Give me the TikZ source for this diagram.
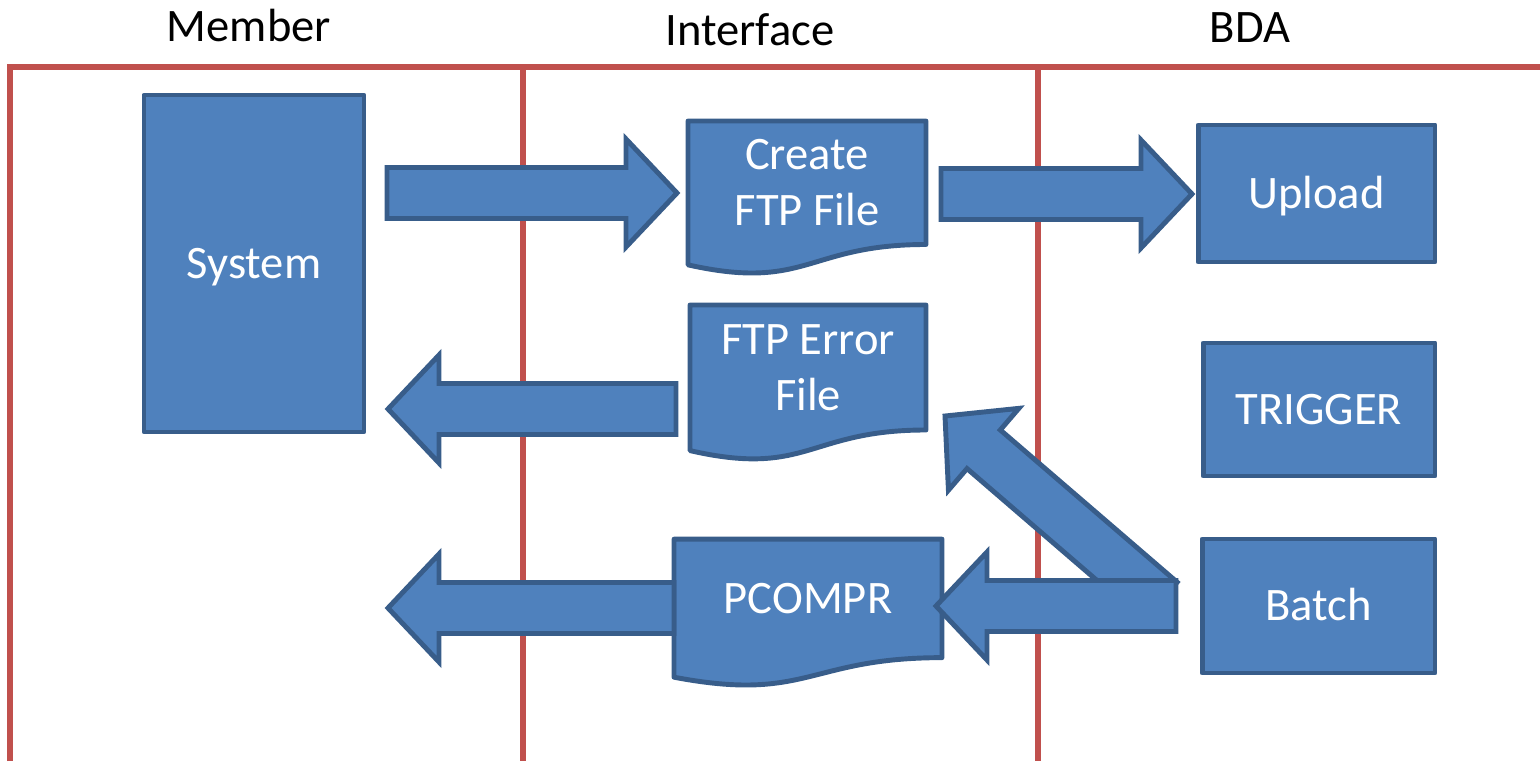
\documentclass[tikz,border=0pt]{standalone}
\usepackage{fontspec}
\setmainfont{Carlito}
\usetikzlibrary{calc,backgrounds}
\definecolor{lanered}{HTML}{C0504D}
\definecolor{boxfill}{HTML}{4F81BD}
\definecolor{boxline}{HTML}{385D8A}
\tikzset{
  lane/.style={draw=lanered,line width=3.3pt},
  head/.style={font=\fontsize{26.5}{32}\selectfont,anchor=base},
  box/.style={draw=boxline,fill=boxfill,line width=2.8pt,line join=round,text=white,align=center,inner sep=0pt,outer sep=0pt,text height=17pt,text depth=0pt,font=\fontsize{26.5}{32}\selectfont},
  docbox/.style={text=white,align=center,inner sep=0pt,outer sep=0pt,font=\fontsize{26.5}{32}\selectfont},
  docfill/.style={draw=boxline,fill=boxfill,line width=2.8pt,line join=round},
  barrow/.style={draw=boxline,fill=boxfill,line width=2.8pt,line join=miter},
}
% wavy bottom under a docbox node
\newcommand\docshape[1]{\path[docfill] (#1.north west) -- (#1.north east) -- (#1.south east) .. controls (#1.south) and ($(#1.south)!-0.38!(#1.north)$) .. ($(#1.south west)!-0.165!(#1.north west)$) -- cycle;}
% block arrow from #1 to the tip #2
\newcommand\blockarrow[2]{\path[barrow] let \p1=(#1),\p2=(#2),\n1={atan2(\y2-\y1,\x2-\x1)},\n2={veclen(\x2-\x1,\y2-\y1)} in [shift={(\p1)},rotate=\n1] (0cm,-0.51cm) -- ({\n2-1.02cm},-0.51cm) -- ({\n2-1.02cm},-1.08cm) -- (\n2,0cm) -- ({\n2-1.02cm},1.08cm) -- ({\n2-1.02cm},0.51cm) -- (0cm,0.51cm) -- cycle;}
\begin{document}
\begin{tikzpicture}[x=0.02cm,y=-0.02cm]
\useasboundingbox (0,0) rectangle (1540,761);
\draw[lane] (10,761) -- (10,67) -- (1540,67);
\draw[lane] (523,67) -- (523,761);
\draw[lane] (1038,67) -- (1038,761);
\node[head] (member) at (249,41) {Member};
\node[head] (iface) at (750,45) {Interface};
\node[head] (bda) at (1250,42) {BDA};
\node[box,minimum width=4.40cm,minimum height=6.74cm] (sys) at (254,263.5) {System};
\node[docbox,minimum width=4.76cm,minimum height=2.47cm] (create) at (807,182.75) {Create\\FTP File};
\node[docbox,minimum width=4.72cm,minimum height=2.50cm] (ftperr) at (808,367.5) {FTP Error\\File};
\node[docbox,text height=17pt,text depth=0pt,minimum width=5.36cm,minimum height=2.37cm] (pcompr) at (808,598.4) {PCOMPR};
\node[box,minimum width=4.74cm,minimum height=2.74cm] (upload) at (1316.5,193.5) {Upload};
\node[box,minimum width=4.64cm,minimum height=2.66cm] (trigger) at (1319,409.5) {TRIGGER};
\node[box,minimum width=4.66cm,minimum height=2.68cm] (batch) at (1318.5,606) {Batch};
\begin{scope}[on background layer]
\docshape{create}
\docshape{ftperr}
\docshape{pcompr}
\end{scope}
\coordinate (sysout) at (387,193);
\coordinate (createin) at (677,193);
\coordinate (createout) at (941,194);
\coordinate (uploadin) at (1192,194);
\coordinate (errout) at (676,409);
\coordinate (sysin) at (388,409);
\coordinate (pcomprout) at (674,608);
\coordinate (memberin) at (388,608);
\coordinate (batchup) at (1160.5,601.5);
\coordinate (errin) at (945,416);
\coordinate (batchout) at (1176,606);
\coordinate (pcomprin) at (936,606);
\blockarrow{sysout}{createin}
\blockarrow{createout}{uploadin}
\blockarrow{errout}{sysin}
\blockarrow{pcomprout}{memberin}
\blockarrow{batchup}{errin}
\blockarrow{batchout}{pcomprin}
\end{tikzpicture}
\end{document}
